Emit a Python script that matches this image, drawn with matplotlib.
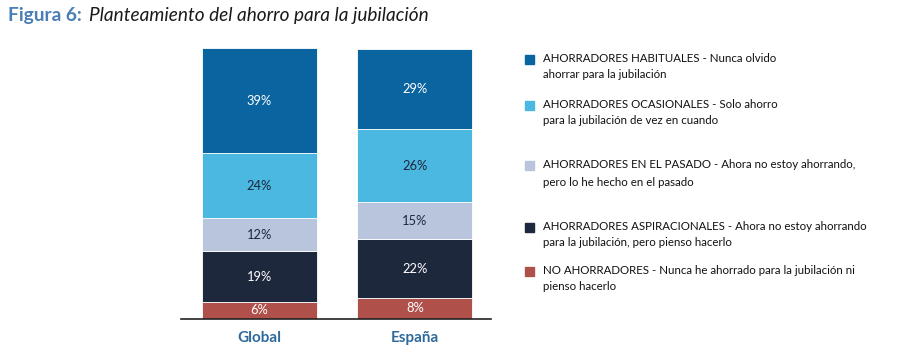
import matplotlib
matplotlib.use("Agg")
import matplotlib.pyplot as plt
from matplotlib.patches import Rectangle

categories = ["Global", "España"]
series_names = [
    "NO AHORRADORES - Nunca he ahorrado para la jubilación ni\npienso hacerlo",
    "AHORRADORES ASPIRACIONALES - Ahora no estoy ahorrando\npara la jubilación, pero pienso hacerlo",
    "AHORRADORES EN EL PASADO - Ahora no estoy ahorrando,\npero lo he hecho en el pasado",
    "AHORRADORES OCASIONALES - Solo ahorro\npara la jubilación de vez en cuando",
    "AHORRADORES HABITUALES - Nunca olvido\nahorrar para la jubilación",
]
# segment heights as drawn in the picture (%)
no_ahorradores = [6, 7.4]
aspiracionales = [19, 21.9]
pasado = [12, 13.7]
ocasionales = [24, 27.0]
habituales = [39, 29.6]
# printed labels
no_ahorradores_lbl = ["6%", "8%"]
aspiracionales_lbl = ["19%", "22%"]
pasado_lbl = ["12%", "15%"]
ocasionales_lbl = ["24%", "26%"]
habituales_lbl = ["39%", "29%"]

series = [no_ahorradores, aspiracionales, pasado, ocasionales, habituales]
labels = [no_ahorradores_lbl, aspiracionales_lbl, pasado_lbl, ocasionales_lbl, habituales_lbl]
colors = ["#B0504A", "#1E283C", "#B9C5DD", "#4BB8E1", "#0A64A0"]
text_colors = ["white", "white", "#1E283C", "#1E283C", "white"]

FONT = "Lato"
W, H = 908, 347
fig = plt.figure(figsize=(W / 100, H / 100), dpi=100)

ax = fig.add_axes([181 / W, (H - 318.5) / H, 310 / W, 270.5 / H])
x = [0, 1]
bottoms = [0, 0]
for vals, lbls, c, tc in zip(series, labels, colors, text_colors):
    ax.bar(x, vals, width=0.74, bottom=bottoms, color=c, edgecolor="white", linewidth=0.6)
    for xi, v, b, lb in zip(x, vals, bottoms, lbls):
        ax.text(xi, b + v / 2, lb, ha="center", va="center", color=tc,
                fontsize=9.3, family=FONT)
    bottoms = [b + v for b, v in zip(bottoms, vals)]

ax.set_xlim(-0.505, 1.49)
ax.set_ylim(0, 100)
for s in ["top", "right", "left"]:
    ax.spines[s].set_visible(False)
ax.spines["bottom"].set_color("#222222")
ax.spines["bottom"].set_linewidth(1.2)
ax.set_yticks([])
ax.set_xticks(x)
ax.set_xticklabels(categories, fontsize=11, color="#2E6A9E", family=FONT, fontweight="bold")
ax.tick_params(axis="x", length=0, pad=9)

# Legend (top to bottom)
legend_y = [[59, 74], [105, 120], [165, 182], [227, 242], [271, 287]]
for (y1, y2), name, c in zip(legend_y, series_names[::-1], colors[::-1]):
    fig.patches.append(Rectangle((525 / W, 1 - (y1 + 5) / H), 9 / W, 9 / H,
                                 transform=fig.transFigure, color=c))
    l1, l2 = name.split("\n")
    fig.text(543 / W, 1 - y1 / H, l1, fontsize=8.3, family=FONT, va="center", color="#111111")
    fig.text(543 / W, 1 - y2 / H, l2, fontsize=8.3, family=FONT, va="center", color="#111111")

# Title
fig.text(8 / W, 1 - 15 / H, "Figura 6:", fontsize=13.8, fontweight="bold",
         color="#4A7EB5", family=FONT, va="center")
fig.text(89 / W, 1 - 15 / H, "Planteamiento del ahorro para la jubilación", fontsize=13.7,
         style="italic", color="#1a1a1a", family=FONT, va="center")

fig.savefig("out.png", dpi=100)
